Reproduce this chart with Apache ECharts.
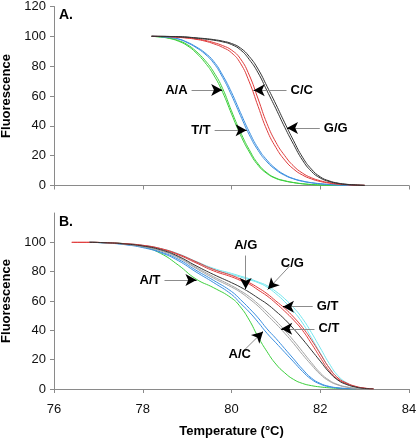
<!DOCTYPE html>
<html><head><meta charset="utf-8">
<script src="https://cdn.jsdelivr.net/npm/echarts/dist/echarts.min.js"></script>
<style>html,body{margin:0;padding:0;background:#fff}#c{width:416px;height:440px}</style>
</head><body><div id="c"></div>
<script>
// ---------- DATA ----------
const xTicks = [76, 78, 80, 82, 84];
const yTicks = [0, 20, 40, 60, 80, 100, 120];

// Panel A temperatures (°C)
const tempA = [78.2,78.4,78.6,78.8,79.0,79.2,79.4,79.6,79.8,80.0,80.2,80.4,80.6,80.8,81.0,81.2,81.4,81.6,81.8,82.0,82.2,82.4,82.6,82.8,83.0];
const aGreen1 = [100,99.6,98.8,97.2,94.5,90,84,76,65,50,36,24,14.5,8.5,5,3.2,2,1.2,0.7,0.4,0.2,0.1,0.05,0,0];
const aGreen2 = [100,99.5,98.6,96.8,93.8,89,82.5,74,62.5,48,34,22.5,13.5,8,4.7,3,1.9,1.1,0.6,0.3,0.2,0.1,0,0,null];
const aBlue1  = [100,99.8,99.3,98.2,95.8,92.5,88.2,82,72.5,60.5,47,34,23.5,15.8,10.5,6.8,4.4,2.8,1.8,1.1,0.6,0.3,0.1,0,null];
const aBlue2  = [100,99.8,99.2,98.3,96.1,93,89,83.2,74,62.5,49,36,25,17,11.2,7.2,4.6,3,1.9,1.2,0.7,0.35,0.15,0.05,0];
const aRed1   = [100,99.9,99.7,99.3,98.8,98,96.8,95,92.6,89,82,69.5,53,37,25.5,17,11,7,4.4,2.7,1.6,0.9,0.5,0.2,0.1];
const aRed2   = [100,99.9,99.8,99.4,99,98.3,97.3,95.8,93.8,90.8,85,74,58,41.5,29,20,13,8.3,5.2,3.2,1.9,1.1,0.6,0.3,0.1];
const aBlack1 = [100,100,99.9,99.7,99.4,98.8,98.2,97.4,96.3,94.5,91,84.5,75.5,63.5,51.5,39,27.5,17,9.5,5,2.7,1.4,0.7,0.3,0.1];
const aBlack2 = [100,100,99.9,99.8,99.5,99,98.5,97.8,96.8,95.2,92.2,86.5,78,66.5,54.5,42,30,19,11,5.8,3.1,1.6,0.8,0.4,0.1];

// Panel B temperatures (°C)
const tempB = [76.4,76.8,77.2,77.6,78.0,78.4,78.8,79.2,79.6,80.0,80.2,80.4,80.6,80.8,81.0,81.2,81.4,81.6,81.8,82.0,82.2,82.4,82.6,82.8,83.0,83.2];
const bRed1   = [100,100,99.7,99,97.8,95.5,91.5,86,80.5,76.5,74,71.5,67.5,63.5,58.5,53,47,40,31,21.5,12.5,6.5,3.5,1.5,0.5,0.1];
const bRed2   = [100,100,99.7,99.1,98,95.8,92,86.8,81.5,77.5,75,72.5,69,65,60,55,49,42,33.5,24,14.5,7.5,4,1.8,0.6,0.1];
const bCyan1  = [null,100,99.7,99,97.8,95.5,91.8,86.5,81.5,78,76.3,74.5,72.5,69.5,65,59.5,53,45,35,24.5,14.5,7.5,3.5,1.3,0.3,null];
const bCyan2  = [null,100,99.7,99.1,98,95.8,92.2,87,82.2,78.8,77,75.2,73,70.5,66.5,61.5,55.5,48,38.5,28,17.5,9,4.2,1.6,0.4,null];
const bBlack  = [null,100,99.7,98.9,97.5,95,90.5,84,78,72.5,69.5,66,62,58,53,47.5,41,34,26.5,19,11.5,6,3,1.3,0.4,0.1];
const bGray1  = [null,100,99.7,98.8,97.2,94.5,90,83,76.5,70.5,67,63,58,52.5,46.5,40,33,25.5,18,11,6,3,1.4,0.5,0.1,null];
const bGray2  = [null,100,99.6,98.7,97,94.2,89.5,82.3,75.5,69.5,66,61.5,56.5,50.5,44.5,38,31,23.5,16.5,10,5.4,2.7,1.2,0.4,0.1,null];
const bBlue1  = [null,100,99.6,98.6,96.8,93.5,88.5,81,74,66.5,61,55,48.5,41,34.5,27.5,20.5,13.5,7.5,3.8,1.8,0.8,0.3,0.1,null,null];
const bBlue2  = [null,100,99.5,98.4,96.4,93,87.5,79.8,72.5,64.5,58.5,52.5,45.5,38,31.5,25,18.5,12,6.6,3.3,1.5,0.7,0.3,0.1,null,null];
const bGreen  = [null,100,99.7,99,97,92.5,84.5,75,69,62,56,47,35.5,25.5,17,11,6.5,3.8,2.3,1.4,0.8,0.4,0.2,0.1,null,null];

// Annotations: label, start point [°C, F], arrow tip [°C, F]
const notesA = [
  {text:'A/A', from:[79.10,64.0], to:[79.79,64.0]},
  {text:'T/T', from:[79.62,37.1], to:[80.34,37.1]},
  {text:'C/C', from:[81.24,63.9], to:[80.50,63.9]},
  {text:'G/G', from:[81.99,38.5], to:[81.25,38.5]}
];
const notesB = [
  {text:'A/T', from:[78.49,74.3], to:[79.21,74.3]},
  {text:'A/G', from:[80.32,91.0], to:[80.32,68.2]},
  {text:'C/G', from:[81.31,83.8], to:[80.82,68.0]},
  {text:'G/T', from:[81.83,56.1], to:[81.16,56.1]},
  {text:'C/T', from:[81.87,41.0], to:[81.12,41.0]},
  {text:'A/C', from:[80.25,25.4], to:[80.71,39.1]}
];

// ---------- STYLE ----------
const FONT = "'Liberation Sans', Arial, sans-serif";
const AX = '#8a8a8a';
const C = {green:'#3ccf3c', blue:'#3b8fe0', red:'#e03c3c', black:'#333333', cyan:'#72e6ee', gray:'#a3a3a3'};

function pairs(t, v) {
  const out = [];
  for (let i = 0; i < t.length; i++) if (v[i] != null) out.push([t[i], v[i]]);
  return out;
}
function curve(t, v, color, idx, z) {
  return {type:'line', xAxisIndex:idx, yAxisIndex:idx, data:pairs(t, v),
    symbol:'none', showSymbol:false, smooth:0.5,
    lineStyle:{width:1, color:color}, itemStyle:{color:color}, silent:true, animation:false, z:z||2};
}
function marks(notes, pxPerX, pxPerY) {
  const data = [];
  notes.forEach(n => {
    data.push([
      {coord:n.from, symbol:'none', lineStyle:{color:'#8c8c8c', width:1, type:'solid'},
        label:{show:true, position:'start', formatter:n.text, distance:4,
          color:'#000', fontWeight:'bold', fontSize:13, fontFamily:FONT}},
      {coord:n.to, symbol:'none'}
    ]);
    const dx = (n.from[0]-n.to[0])*pxPerX, dy = (n.from[1]-n.to[1])*pxPerY;
    const k = 8/Math.sqrt(dx*dx+dy*dy);
    const back = [n.to[0]+(n.from[0]-n.to[0])*k, n.to[1]+(n.from[1]-n.to[1])*k];
    data.push([
      {coord:back, symbol:'none', lineStyle:{color:'#000', width:1, type:'solid'}, label:{show:false}},
      {coord:n.to, symbol:'arrow', symbolSize:[9,11]}
    ]);
  });
  return {silent:true, animation:false, symbol:['none','arrow'], lineStyle:{type:'solid'}, data:data};
}
function xAx(idx, showLabels) {
  return {type:'value', gridIndex:idx, min:xTicks[0], max:xTicks[xTicks.length-1], interval:2,
    axisLine:{lineStyle:{color:AX, width:1}},
    axisTick:{show:true, length:4, lineStyle:{color:AX}},
    axisLabel:{show:showLabels, color:'#111', fontSize:13, fontFamily:FONT, margin:14},
    splitLine:{show:false},
    name: showLabels ? 'Temperature (°C)' : '', nameLocation:'middle', nameGap:36,
    nameTextStyle:{color:'#000', fontWeight:'bold', fontSize:13, fontFamily:FONT}};
}
function yAx(idx, showMax) {
  return {type:'value', gridIndex:idx, min:yTicks[0], max:yTicks[yTicks.length-1], interval:20,
    axisLine:{show:true, lineStyle:{color:AX, width:1}},
    axisTick:{show:true, length:4, lineStyle:{color:AX}},
    axisLabel:{color:'#111', fontSize:13, fontFamily:FONT, margin:8, showMaxLabel:showMax},
    splitLine:{show:false},
    name:'Fluorescence', nameLocation:'middle', nameGap:38, nameRotate:90,
    nameTextStyle:{color:'#000', fontWeight:'bold', fontSize:13, fontFamily:FONT}};
}

const chart = echarts.init(document.getElementById('c'), null, {renderer:'canvas'});

const sA = [
  curve(tempA, aGreen1, C.green, 0), curve(tempA, aGreen2, C.green, 0),
  curve(tempA, aBlue1, C.blue, 0), curve(tempA, aBlue2, C.blue, 0),
  curve(tempA, aRed1, C.red, 0), curve(tempA, aRed2, C.red, 0),
  curve(tempA, aBlack1, C.black, 0), curve(tempA, aBlack2, C.black, 0)
];
sA[0].markLine = marks(notesA, 44.35, 1.495);
const sB = [
  curve(tempB, bGreen, C.green, 1),
  curve(tempB, bBlue1, C.blue, 1), curve(tempB, bBlue2, C.blue, 1),
  curve(tempB, bGray1, C.gray, 1), curve(tempB, bGray2, C.gray, 1),
  curve(tempB, bCyan1, C.cyan, 1), curve(tempB, bCyan2, C.cyan, 1),
  curve(tempB, bRed1, C.red, 1), curve(tempB, bRed2, C.red, 1),
  curve(tempB, bBlack, C.black, 1)
];
sB[0].markLine = marks(notesB, 44.35, 1.467);

chart.setOption({
  backgroundColor:'#fff',
  animation:false,
  textStyle:{fontFamily:FONT},
  title:[
    {text:'A.', left:59, top:8, padding:0, textStyle:{fontSize:14, fontWeight:'bold', color:'#000', fontFamily:FONT}},
    {text:'B.', left:59, top:215, padding:0, textStyle:{fontSize:14, fontWeight:'bold', color:'#000', fontFamily:FONT}}
  ],
  grid:[
    {left:54, top:6.5, width:355, height:179, containLabel:false, outerBoundsMode:'none'},
    {left:54, top:213, width:355, height:176, containLabel:false, outerBoundsMode:'none'}
  ],
  xAxis:[xAx(0,false), xAx(1,true)],
  yAxis:[yAx(0,true), yAx(1,false)],
  series: sA.concat(sB)
});
</script></body></html>
